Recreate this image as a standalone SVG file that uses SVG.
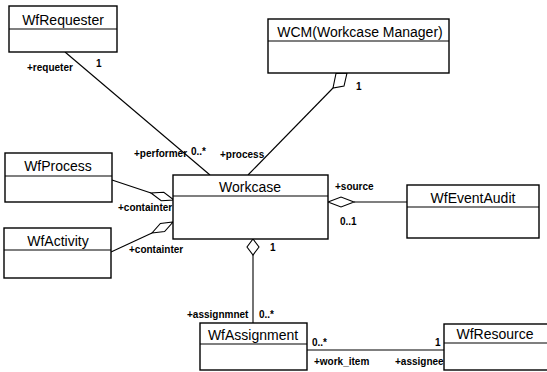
<svg xmlns="http://www.w3.org/2000/svg" width="547" height="372" viewBox="0 0 547 372">
<style>
.box{fill:#fff;stroke:#000;stroke-width:1.4}
.div{stroke:#000;stroke-width:1.2}
.name{font-family:"Liberation Sans",Arial,sans-serif;font-size:14px;fill:#000;text-anchor:middle}
.lbl{font-family:"Liberation Sans",Arial,sans-serif;font-size:10px;font-weight:bold;fill:#000}
.ln{fill:none;stroke:#000;stroke-width:1.1}
.dia{fill:#fff;stroke:#000;stroke-width:1.1}
</style>
<rect width="547" height="372" fill="#fff"/>
<g id="connectors">
<line class="ln" x1="65" y1="52" x2="210" y2="175"/>
<line class="ln" x1="333" y1="88" x2="248" y2="175"/>
<polygon class="dia" points="336,73.5 347,73 344,86 333,88"/>
<line class="ln" x1="112" y1="180" x2="151" y2="193"/>
<polygon class="dia" points="151,193 161.2,200.8 174,200 163.8,192.2"/>
<line class="ln" x1="111" y1="252" x2="152" y2="233"/>
<polygon class="dia" points="152,233 164.6,231.5 173,222 160.4,223.5"/>
<line class="ln" x1="253" y1="255" x2="253" y2="323"/>
<polygon class="dia" points="253,239 259,247 253,255 247,247"/>
<line class="ln" x1="354" y1="202" x2="407" y2="202"/>
<polygon class="dia" points="328,202 341,197 354,202 341,207"/>
<line class="ln" x1="307" y1="350" x2="444" y2="350"/>
<text class="lbl" x="27" y="71">+requeter</text>
<text class="lbl" x="96" y="67">1</text>
<text class="lbl" x="134" y="157">+performer</text>
<text class="lbl" x="191" y="155">0..*</text>
<text class="lbl" x="220" y="158">+process</text>
<text class="lbl" x="356" y="90">1</text>
<text class="lbl" x="118" y="211">+containter</text>
<text class="lbl" x="129" y="253">+containter</text>
<text class="lbl" x="270" y="251">1</text>
<text class="lbl" x="335" y="190">+source</text>
<text class="lbl" x="340" y="225">0..1</text>
<text class="lbl" x="187" y="318">+assignmnet</text>
<text class="lbl" x="259" y="318">0..*</text>
<text class="lbl" x="312" y="346">0..*</text>
<text class="lbl" x="435" y="346">1</text>
<text class="lbl" x="314" y="365">+work_item</text>
<text class="lbl" x="395" y="365">+assignee</text>
</g>
<g id="WfRequester">
<rect class="box" x="9" y="6" width="108" height="46"/>
<line class="div" x1="9" y1="29" x2="117" y2="29"/>
<text class="name" x="63" y="25">WfRequester</text>
</g>
<g id="WCM">
<rect class="box" x="268" y="19" width="181" height="54"/>
<line class="div" x1="268" y1="41" x2="449" y2="41"/>
<text class="name" x="360" y="37">WCM(Workcase Manager)</text>
</g>
<g id="WfProcess">
<rect class="box" x="5" y="153" width="107" height="49"/>
<line class="div" x1="5" y1="176" x2="112" y2="176"/>
<text class="name" x="58" y="171">WfProcess</text>
</g>
<g id="Workcase">
<rect class="box" x="173" y="175" width="155" height="64"/>
<line class="div" x1="173" y1="196" x2="328" y2="196"/>
<text class="name" x="250" y="192">Workcase</text>
</g>
<g id="WfActivity">
<rect class="box" x="4" y="228" width="107" height="50"/>
<line class="div" x1="4" y1="250" x2="111" y2="250"/>
<text class="name" x="58" y="246">WfActivity</text>
</g>
<g id="WfEventAudit">
<rect class="box" x="407" y="185" width="132" height="53"/>
<line class="div" x1="407" y1="207" x2="539" y2="207"/>
<text class="name" x="473" y="203">WfEventAudit</text>
</g>
<g id="WfAssignment">
<rect class="box" x="200" y="323" width="107" height="47"/>
<line class="div" x1="200" y1="344" x2="307" y2="344"/>
<text class="name" x="253" y="340">WfAssignment</text>
</g>
<g id="WfResource">
<rect class="box" x="444" y="324" width="106" height="46"/>
<line class="div" x1="444" y1="343" x2="550" y2="343"/>
<text class="name" x="495" y="339">WfResource</text>
</g>
</svg>
